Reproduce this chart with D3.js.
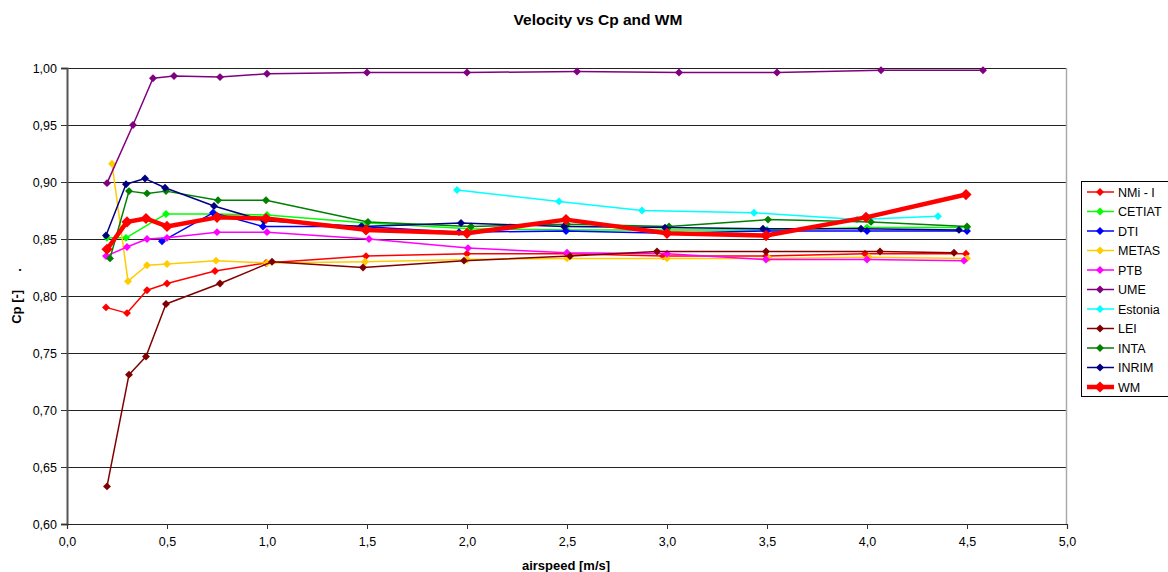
<!DOCTYPE html>
<html>
<head>
<meta charset="utf-8">
<script src="https://cdn.jsdelivr.net/npm/d3@7"></script>
<style>
  html, body { margin: 0; padding: 0; background: #fff; }
  svg { display: block; font-family: "Liberation Sans", Arial, sans-serif; }
</style>
</head>
<body>
<svg id="chart" width="1168" height="572"></svg>
<script>
// Cp measurements per laboratory: [airspeed m/s, Cp]
const nmiI    = [[0.195,0.790],[0.30,0.785],[0.40,0.805],[0.50,0.811],[0.74,0.822],[0.995,0.829],[1.495,0.835],[2.0,0.837],[2.5,0.837],[2.98,0.835],[3.495,0.835],[3.99,0.837],[4.495,0.837]];
const cetiat  = [[0.20,0.851],[0.295,0.851],[0.495,0.872],[0.74,0.872],[1.0,0.871],[1.5,0.864],[2.015,0.859],[2.5,0.858],[3.0,0.858],[3.5,0.858],[4.0,0.860],[4.5,0.860]];
const dti     = [[0.475,0.848],[0.73,0.873],[0.98,0.861],[1.47,0.861],[1.96,0.856],[2.495,0.857],[3.0,0.855],[3.5,0.857],[4.0,0.857],[4.5,0.857]];
const metas   = [[0.225,0.916],[0.305,0.813],[0.40,0.827],[0.50,0.828],[0.745,0.831],[1.0,0.829],[1.49,0.830],[2.0,0.832],[2.5,0.833],[3.0,0.833],[3.51,0.833],[4.01,0.834],[4.5,0.833]];
const ptb     = [[0.195,0.835],[0.30,0.843],[0.40,0.850],[0.50,0.851],[0.75,0.856],[1.0,0.856],[1.51,0.850],[2.005,0.842],[2.5,0.838],[3.0,0.837],[3.495,0.832],[4.0,0.832],[4.485,0.831]];
const ume     = [[0.20,0.899],[0.33,0.950],[0.43,0.991],[0.535,0.993],[0.765,0.992],[1.0,0.995],[1.5,0.996],[2.0,0.996],[2.55,0.997],[3.06,0.996],[3.55,0.996],[4.07,0.998],[4.58,0.998]];
const estonia = [[1.95,0.893],[2.46,0.883],[2.875,0.875],[3.435,0.873],[3.95,0.867],[4.355,0.870]];
const lei     = [[0.20,0.633],[0.31,0.731],[0.395,0.747],[0.495,0.793],[0.765,0.811],[1.025,0.830],[1.48,0.825],[1.985,0.831],[2.515,0.835],[2.95,0.839],[3.495,0.839],[4.065,0.839],[4.435,0.838]];
const inta    = [[0.215,0.833],[0.31,0.892],[0.40,0.890],[0.495,0.892],[0.755,0.884],[0.995,0.884],[1.505,0.865],[2.02,0.861],[2.5,0.863],[3.01,0.861],[3.505,0.867],[4.02,0.865],[4.5,0.861]];
const inrim   = [[0.195,0.853],[0.295,0.898],[0.39,0.903],[0.49,0.895],[0.735,0.879],[0.985,0.866],[1.475,0.861],[1.97,0.864],[2.485,0.861],[2.99,0.860],[3.48,0.859],[3.97,0.859],[4.46,0.858]];
const wm      = [[0.20,0.841],[0.30,0.865],[0.395,0.868],[0.50,0.861],[0.75,0.869],[0.995,0.868],[1.495,0.858],[2.0,0.855],[2.495,0.867],[3.0,0.855],[3.495,0.853],[3.995,0.869],[4.495,0.889]];

const seriesNames  = ["NMi - I","CETIAT","DTI","METAS","PTB","UME","Estonia","LEI","INTA","INRIM","WM"];
const seriesValues = [nmiI, cetiat, dti, metas, ptb, ume, estonia, lei, inta, inrim, wm];
const seriesColors = ["#ff0000","#00ff00","#0000ff","#ffcc00","#ff00ff","#800080","#00ffff","#800000","#008000","#000080","#ff0000"];

const xTicks = [0,0.5,1,1.5,2,2.5,3,3.5,4,4.5,5];
const yTicks = [0.60,0.65,0.70,0.75,0.80,0.85,0.90,0.95,1.00];

const svg = d3.select("#chart");
const plot = { left: 67, right: 1067, top: 68, bottom: 524 };

const x = d3.scaleLinear().domain([0, 5]).range([plot.left, plot.right]);
const y = d3.scaleLinear().domain([0.60, 1.00]).range([plot.bottom, plot.top]);
const fmt = d => d3.format(",.2f")(d).replace(".", ",");
const fmtX = d => d3.format(".1f")(d).replace(".", ",");

// title
svg.append("text")
  .attr("x", 598).attr("y", 25)
  .attr("text-anchor", "middle")
  .attr("font-size", 15.5).attr("font-weight", "bold")
  .text("Velocity vs Cp and WM");

// horizontal gridlines
svg.append("g").selectAll("line")
  .data(yTicks.filter(d => d > 0.6))
  .join("line")
  .attr("x1", plot.left).attr("x2", plot.right)
  .attr("y1", d => Math.round(y(d)) + 0.5).attr("y2", d => Math.round(y(d)) + 0.5)
  .attr("stroke", "#222").attr("stroke-width", 1);

// right border of plot area
svg.append("line")
  .attr("x1", plot.right - 0.5).attr("x2", plot.right - 0.5)
  .attr("y1", plot.top).attr("y2", plot.bottom)
  .attr("stroke", "#aaa").attr("stroke-width", 1.5);

// y axis
const yAxis = svg.append("g")
  .attr("transform", `translate(${plot.left},0)`)
  .call(d3.axisLeft(y).tickValues(yTicks).tickFormat(fmt).tickSize(6).tickPadding(4));
yAxis.select(".domain").attr("stroke", "#555").attr("stroke-width", 2);
yAxis.selectAll(".tick line").attr("stroke", "#333");
yAxis.selectAll("text").attr("font-size", 12.5).attr("fill", "#000")
  .attr("font-family", "'Liberation Sans', Arial, sans-serif");

// x axis
const xAxis = svg.append("g")
  .attr("transform", `translate(0,${plot.bottom})`)
  .call(d3.axisBottom(x).tickValues(xTicks).tickFormat(fmtX).tickSize(5).tickPadding(8));
xAxis.select(".domain").attr("stroke", "#222").attr("stroke-width", 1.2);
xAxis.selectAll(".tick line").attr("stroke", "#333");
xAxis.selectAll("text").attr("font-size", 12.5).attr("fill", "#000")
  .attr("font-family", "'Liberation Sans', Arial, sans-serif");

// axis titles
svg.append("text")
  .attr("x", 566).attr("y", 570)
  .attr("text-anchor", "middle")
  .attr("font-size", 13).attr("font-weight", "bold")
  .text("airspeed [m/s]");

svg.append("text")
  .attr("transform", "translate(21,296) rotate(-90)")
  .attr("text-anchor", "middle")
  .attr("font-size", 13).attr("font-weight", "bold")
  .attr("xml:space", "preserve")
  .style("white-space", "pre")
  .text("Cp [-]     .");

// series lines and diamond markers
const line = d3.line().x(d => x(d[0])).y(d => y(d[1]));
const diamond = size => d3.symbol().type(d3.symbolDiamond2).size(size)();

const series = svg.append("g").selectAll("g")
  .data(seriesNames.map((name, i) => ({ name, values: seriesValues[i], color: seriesColors[i], bold: name === "WM" })))
  .join("g");

series.append("path")
  .attr("d", d => line(d.values))
  .attr("fill", "none")
  .attr("stroke", d => d.color)
  .attr("stroke-width", d => d.bold ? 4.5 : 1.5)
  .attr("stroke-linejoin", "round");

series.each(function(s) {
  d3.select(this).selectAll("path.pt")
    .data(s.values)
    .join("path")
    .attr("class", "pt")
    .attr("transform", d => `translate(${x(d[0])},${y(d[1])})`)
    .attr("d", diamond(s.bold ? 80 : 40))
    .attr("fill", s.color);
});

// legend
const legend = svg.append("g");
legend.append("rect")
  .attr("x", 1081.5).attr("y", 181.5)
  .attr("width", 100).attr("height", 215)
  .attr("fill", "#fff").attr("stroke", "#000").attr("stroke-width", 1);

const items = legend.selectAll("g.item")
  .data(seriesNames.map((name, i) => ({ name, color: seriesColors[i], bold: name === "WM" })))
  .join("g")
  .attr("class", "item")
  .attr("transform", (d, i) => `translate(0,${192 + i * 19.5})`);

items.append("line")
  .attr("x1", 1087).attr("x2", 1114)
  .attr("stroke", d => d.color)
  .attr("stroke-width", d => d.bold ? 4.5 : 1.5);
items.append("path")
  .attr("transform", "translate(1100,0)")
  .attr("d", d => diamond(d.bold ? 80 : 40))
  .attr("fill", d => d.color);
items.append("text")
  .attr("x", 1118).attr("y", 4.5)
  .attr("font-size", 12.5)
  .text(d => d.name);
</script>
</body>
</html>
